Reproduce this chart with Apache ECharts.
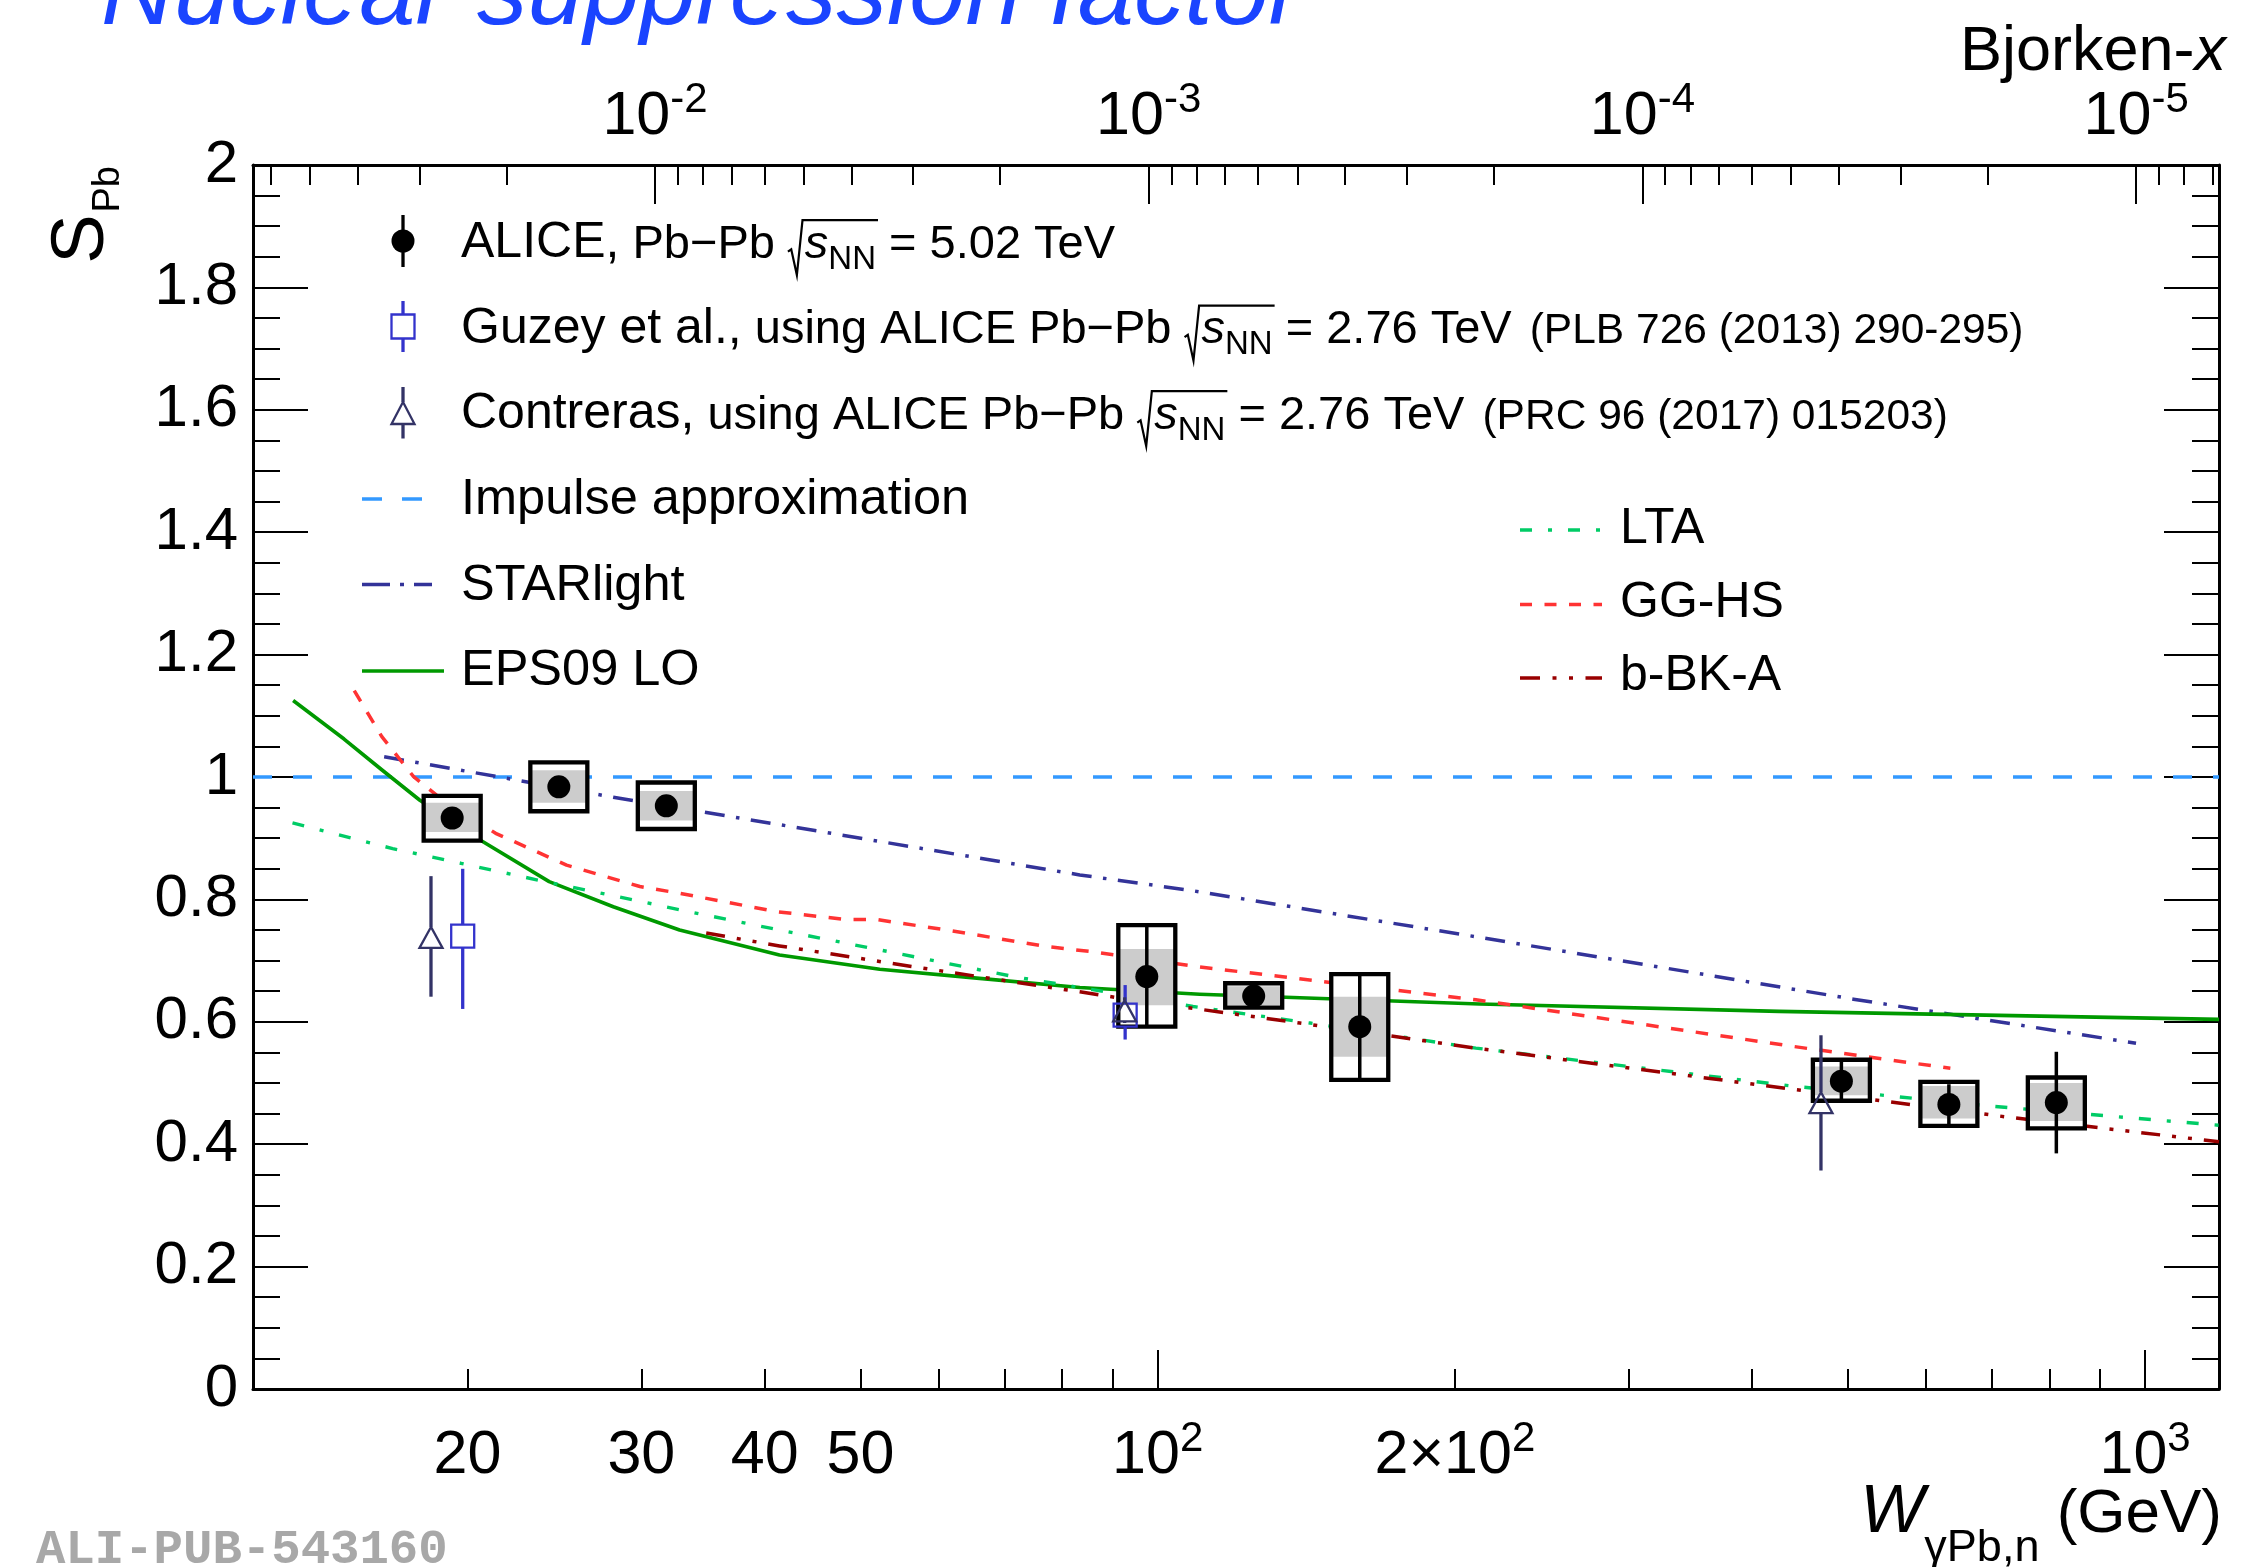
<!DOCTYPE html>
<html><head><meta charset="utf-8">
<script src="https://cdn.jsdelivr.net/npm/echarts@6/dist/echarts.min.js"></script>
<style>html,body{margin:0;padding:0;background:#fff}#c{width:2265px;height:1567px}</style>
</head><body><div id="c"></div>
<script>
// ---------------- data ----------------
// ALICE Pb-Pb 5.02 TeV
const aliceW      = [19.3, 24.75, 31.8, 97.5, 125.1, 160.2, 492.5, 632.8, 813];
const aliceS      = [0.933, 0.984, 0.953, 0.674, 0.642, 0.592, 0.503, 0.465, 0.468];
const aliceStat   = [0.010, 0.010, 0.010, 0.083, 0.012, 0.086, 0.034, 0.033, 0.083];
const aliceSystLo = [0.896, 0.944, 0.915, 0.592, 0.623, 0.505, 0.471, 0.430, 0.426];
const aliceSystHi = [0.969, 1.024, 0.991, 0.758, 0.663, 0.678, 0.538, 0.502, 0.509];
const aliceCorrLo = [0.910, 0.958, 0.929, 0.627, 0.627, 0.543, 0.480, 0.442, 0.438];
const aliceCorrHi = [0.958, 1.011, 0.977, 0.719, 0.658, 0.641, 0.527, 0.495, 0.500];
// Guzey et al.
const guzeyW  = [19.78, 92.7];
const guzeyS  = [0.740, 0.611];
const guzeyLo = [0.621, 0.571];
const guzeyHi = [0.850, 0.660];
// Contreras
const contW  = [18.37, 92.6, 469.6];
const contS  = [0.737, 0.617, 0.467];
const contLo = [0.641, 0.598, 0.357];
const contHi = [0.838, 0.640, 0.578];
// Models
const impulseW = [12.13, 1188];
const impulseS = [1.0, 1.0];
const starW = [16.47, 22.26, 28.1, 41.45, 83.4, 107.7, 210, 506.5, 979];
const starS = [1.033, 0.996, 0.967, 0.922, 0.840, 0.815, 0.739, 0.637, 0.565];
const epsW = [13.32, 15.0, 16.4, 17.9, 20.6, 24.2, 28.1, 32.8, 41.4, 52.3, 66.0, 83.4, 110.3, 211.8, 426, 1188];
const epsS = [1.125, 1.062, 1.011, 0.962, 0.897, 0.829, 0.788, 0.750, 0.709, 0.686, 0.671, 0.656, 0.645, 0.629, 0.617, 0.604];
const ltaW = [13.3, 16.8, 19.7, 23.5, 29.5, 32.8, 41.4, 54.4, 71.4, 90.1, 108.6, 142.6, 210, 439, 700, 1188];
const ltaS = [0.925, 0.883, 0.859, 0.832, 0.799, 0.783, 0.750, 0.712, 0.674, 0.647, 0.625, 0.598, 0.557, 0.495, 0.462, 0.431];
const gghsW = [15.36, 16.38, 17.64, 18.69, 21.36, 25.2, 29.9, 32.8, 41.1, 48.4, 52.0, 61.1, 77.2, 85.3, 108.6, 210, 439, 635];
const gghsS = [1.141, 1.066, 1.0005, 0.968, 0.908, 0.856, 0.821, 0.810, 0.780, 0.767, 0.767, 0.750, 0.723, 0.715, 0.691, 0.636, 0.560, 0.524];
const bbkW = [34.9, 41.4, 56.6, 77.2, 83.4, 102.8, 108.6, 139.3, 210, 439, 720, 1188];
const bbkS = [0.745, 0.724, 0.690, 0.657, 0.649, 0.626, 0.622, 0.598, 0.557, 0.490, 0.445, 0.404];

// ---------------- axes / ticks ----------------
const W_MIN = 12.13, W_MAX = 1188, MJPSI = 3.097;
const X_LEFT = Math.pow(MJPSI / W_MIN, 2), X_RIGHT = Math.pow(MJPSI / W_MAX, 2);
const wLabelValues = [20, 30, 40, 50, 100, 200, 1000];
const wMajorTicks = [100, 1000];
const wMinorTicks = [20, 30, 40, 50, 60, 70, 80, 90, 200, 300, 400, 500, 600, 700, 800, 900];
const bjLabelValues = [1e-2, 1e-3, 1e-4, 1e-5];
const bjMinorTicks = [];
for (let e = -6; e <= -2; e++) for (let k = 2; k <= 9; k++) {
  const v = k * Math.pow(10, e);
  if (v >= X_RIGHT && v <= X_LEFT) bjMinorTicks.push(v);
}

const FF = '"Liberation Sans", Arial, Helvetica, sans-serif';
const tickRich = {
  n: { fontSize: 61, lineHeight: 68.5, fontFamily: FF, color: '#000', verticalAlign: 'bottom' },
  p: { fontSize: 42, lineHeight: 42, fontFamily: FF, color: '#000', verticalAlign: 'top' }
};
function fmtW(v) {
  v = Math.round(v);
  if (v >= 100) {
    const e = Math.round(Math.log10(v));
    const m = Math.round(v / Math.pow(10, e));
    return (m === 1 ? '{n|10}' : '{n|' + m + '×10}') + '{p|' + e + '}';
  }
  return '{n|' + v + '}';
}
function fmtX(v) {
  const e = Math.round(Math.log10(v));
  return '{n|10}{p|' + e + '}';
}
const black = { color: '#000', width: 3 };
const tickStyle = { color: '#000', width: 2 };

// ---------------- text helpers (legend, titles) ----------------
const mctx = document.createElement('canvas').getContext('2d');
function tw(t, size, it) { mctx.font = (it ? 'italic ' : '') + size + 'px "Liberation Sans"'; return mctx.measureText(t).width; }
function segWidth(segs) {
  let w = 0;
  for (const s of segs) w += (s.gap || 0) + (s.rad ? s.size * 0.36 : tw(s.t, s.size, s.it));
  return w;
}
function lineEls(x0, base, segs, color) {
  const els = []; let x = x0;
  for (let i = 0; i < segs.length; i++) {
    const s = segs[i]; x += s.gap || 0;
    if (s.rad) {
      const f = s.size;
      const cover = segWidth(segs.slice(i + 1, i + 1 + s.rad));
      const top = base - 0.87 * f;
      const xe = x + 0.36 * f + cover + 2;
      els.push({ type: 'polyline', silent: true,
        shape: { points: [[x, base - 0.2 * f], [x + 0.07 * f, base - 0.25 * f], [x + 0.19 * f, base + 0.3 * f], [x + 0.31 * f, top], [xe, top]] },
        style: { stroke: color, lineWidth: 2.2, fill: null } });
      x += 0.36 * f; continue;
    }
    const yb = base + (s.dy || 0);
    els.push({ type: 'text', silent: true, x: x, y: yb - 0.35 * s.size,
      style: { text: s.t, fontSize: s.size, fontFamily: FF, fontStyle: s.it ? 'italic' : 'normal',
               fill: color, align: 'left', verticalAlign: 'middle' } });
    x += tw(s.t, s.size, s.it);
  }
  return els;
}

const LX = 461;          // legend text start
const MX = 403;          // legend marker x
const graphics = [];
// hand-written annotation (clipped at the top of the page)
graphics.push({ type: 'text', silent: true, x: 101, y: -4,
  style: { text: 'Nuclear suppression factor', fontSize: 101, fontFamily: FF, fontStyle: 'italic',
           fill: '#1a44ff', align: 'left', verticalAlign: 'middle' } });
// ALICE row
graphics.push(...lineEls(LX, 261, [
  { t: 'ALICE,', size: 50 }, { t: ' Pb−Pb ', size: 47 }, { rad: 2, size: 47 },
  { t: 's', size: 47, it: true }, { t: 'NN', size: 33, dy: 10 }, { t: ' = 5.02 TeV', size: 47 }], '#000'));
graphics.push({ type: 'line', silent: true, shape: { x1: MX, y1: 215, x2: MX, y2: 267 }, style: { stroke: '#000', lineWidth: 3.3 } });
graphics.push({ type: 'circle', silent: true, shape: { cx: MX, cy: 241, r: 11.5 }, style: { fill: '#000' } });
// Guzey row
graphics.push(...lineEls(LX, 346.5, [
  { t: 'Guzey et al.,', size: 50 }, { t: ' using ALICE Pb−Pb ', size: 47 }, { rad: 2, size: 47 },
  { t: 's', size: 47, it: true }, { t: 'NN', size: 33, dy: 10 }, { t: ' = 2.76 TeV', size: 47 },
  { t: '(PLB 726 (2013) 290-295)', size: 42.5, gap: 18 }], '#000'));
graphics.push({ type: 'line', silent: true, shape: { x1: MX, y1: 301, x2: MX, y2: 314.5 }, style: { stroke: '#3333cc', lineWidth: 3.3 } });
graphics.push({ type: 'line', silent: true, shape: { x1: MX, y1: 338.5, x2: MX, y2: 352 }, style: { stroke: '#3333cc', lineWidth: 3.3 } });
graphics.push({ type: 'rect', silent: true, shape: { x: MX - 11.5, y: 314.5, width: 23, height: 24 }, style: { fill: 'none', stroke: '#3333cc', lineWidth: 2.3 } });
// Contreras row
graphics.push(...lineEls(LX, 432, [
  { t: 'Contreras,', size: 50 }, { t: ' using ALICE Pb−Pb ', size: 47 }, { rad: 2, size: 47 },
  { t: 's', size: 47, it: true }, { t: 'NN', size: 33, dy: 10 }, { t: ' = 2.76 TeV', size: 47 },
  { t: '(PRC 96 (2017) 015203)', size: 42.5, gap: 18 }], '#000'));
graphics.push({ type: 'line', silent: true, shape: { x1: MX, y1: 387, x2: MX, y2: 402 }, style: { stroke: '#333366', lineWidth: 3.3 } });
graphics.push({ type: 'line', silent: true, shape: { x1: MX, y1: 424, x2: MX, y2: 438.5 }, style: { stroke: '#333366', lineWidth: 3.3 } });
graphics.push({ type: 'polygon', silent: true, shape: { points: [[MX, 402], [MX - 11.5, 424], [MX + 11.5, 424]] }, style: { fill: 'none', stroke: '#333366', lineWidth: 2.3 } });
// line-legend rows
function legLine(x1, x2, y, color, dash, w) {
  return { type: 'line', silent: true, shape: { x1, y1: y, x2, y2: y }, style: { stroke: color, lineWidth: w || 3.5, lineDash: dash } };
}
graphics.push(legLine(362, 424, 499, '#3399ff', [20, 20]));
graphics.push(...lineEls(LX, 518, [{ t: 'Impulse approximation', size: 50.5 }], '#000'));
graphics.push(legLine(362, 432, 584.5, '#333399', [28, 10, 4, 10]));
graphics.push(...lineEls(LX, 603.5, [{ t: 'STARlight', size: 50.5 }], '#000'));
graphics.push(legLine(362, 444, 671, '#009900', null));
graphics.push(...lineEls(LX, 689, [{ t: 'EPS09 LO', size: 50.5 }], '#000'));
// right legend
graphics.push(legLine(1520, 1602, 530, '#00cc66', [12, 16, 4, 16]));
graphics.push(...lineEls(1620, 547, [{ t: 'LTA', size: 50 }], '#000'));
graphics.push(legLine(1520, 1602, 604.5, '#ff3333', [12, 12.5]));
graphics.push(...lineEls(1620, 621, [{ t: 'GG-HS', size: 50 }], '#000'));
graphics.push(legLine(1520, 1602, 678, '#990000', [20, 12.5, 4, 12.5, 4, 12.5]));
graphics.push(...lineEls(1620, 694, [{ t: 'b-BK-A', size: 50 }], '#000'));
// Bjorken-x title (top right)
const bjSegs = [{ t: 'Bjorken-', size: 63 }, { t: 'x', size: 63, it: true }];
graphics.push(...lineEls(2226 - segWidth(bjSegs), 75, bjSegs, '#000'));
// W title (bottom right)
const wSegs = [{ t: 'W', size: 68, it: true }, { t: 'γPb,n', size: 45, dy: 27 }, { t: ' (GeV)', size: 62 }];
graphics.push(...lineEls(2222 - segWidth(wSegs), 1537, wSegs, '#000'));
// S_Pb title (rotated)
const pbW = tw('Pb', 38, false);
graphics.push({ type: 'group', x: 108, y: 166, rotation: Math.PI / 2, silent: true, children: [
  { type: 'text', x: -pbW - 2, y: -0.35 * 74, style: { text: 'S', fontSize: 74, fontFamily: FF, fill: '#000', align: 'right', verticalAlign: 'middle' } },
  { type: 'text', x: 0, y: 14 - 0.35 * 38, style: { text: 'Pb', fontSize: 38, fontFamily: FF, fill: '#000', align: 'right', verticalAlign: 'middle' } }
] });
// publication tag
graphics.push({ type: 'text', silent: true, x: 36, y: 1551,
  style: { text: 'ALI-PUB-543160', fontSize: 49, fontFamily: '"Liberation Mono", "DejaVu Sans Mono", monospace', fontWeight: 'bold',
           fill: '#a8a8a8', align: 'left', verticalAlign: 'middle' } });

// ---------------- custom renderers ----------------
function renderAlice(params, api) {
  const w = api.value(0), s = api.value(1), st = api.value(2);
  const c = api.coord([w, s]);
  const pHi = api.coord([w, s + st])[1], pLo = api.coord([w, s - st])[1];
  const bHi = api.coord([w, api.value(4)])[1], bLo = api.coord([w, api.value(3)])[1];
  const gHi = api.coord([w, api.value(6)])[1], gLo = api.coord([w, api.value(5)])[1];
  const hw = 28.5;
  return { type: 'group', children: [
    { type: 'rect', shape: { x: c[0] - hw, y: bHi, width: 2 * hw, height: bLo - bHi }, style: { fill: '#ffffff' } },
    { type: 'rect', shape: { x: c[0] - hw, y: gHi, width: 2 * hw, height: gLo - gHi }, style: { fill: '#cccccc' } },
    { type: 'rect', shape: { x: c[0] - hw, y: bHi, width: 2 * hw, height: bLo - bHi }, style: { fill: 'none', stroke: '#000', lineWidth: 4.3 } },
    { type: 'line', shape: { x1: c[0], y1: pHi, x2: c[0], y2: pLo }, style: { stroke: '#000', lineWidth: 3.5 } },
    { type: 'circle', shape: { cx: c[0], cy: c[1], r: 11.5 }, style: { fill: '#000' } }
  ] };
}
function renderGuzey(params, api) {
  const w = api.value(0);
  const c = api.coord([w, api.value(1)]);
  const lo = api.coord([w, api.value(2)])[1], hi = api.coord([w, api.value(3)])[1];
  const h = 11.5, col = '#3333cc';
  return { type: 'group', children: [
    { type: 'line', shape: { x1: c[0], y1: hi, x2: c[0], y2: c[1] - h }, style: { stroke: col, lineWidth: 3.3 } },
    { type: 'line', shape: { x1: c[0], y1: c[1] + h, x2: c[0], y2: lo }, style: { stroke: col, lineWidth: 3.3 } },
    { type: 'rect', shape: { x: c[0] - h, y: c[1] - h, width: 2 * h, height: 2 * h }, style: { fill: 'none', stroke: col, lineWidth: 2.3 } }
  ] };
}
function renderCont(params, api) {
  const w = api.value(0);
  const c = api.coord([w, api.value(1)]);
  const lo = api.coord([w, api.value(2)])[1], hi = api.coord([w, api.value(3)])[1];
  const col = '#333366';
  return { type: 'group', children: [
    { type: 'line', shape: { x1: c[0], y1: hi, x2: c[0], y2: c[1] - 11 }, style: { stroke: col, lineWidth: 3.3 } },
    { type: 'line', shape: { x1: c[0], y1: c[1] + 10, x2: c[0], y2: lo }, style: { stroke: col, lineWidth: 3.3 } },
    { type: 'polygon', shape: { points: [[c[0], c[1] - 11], [c[0] - 11.5, c[1] + 10], [c[0] + 11.5, c[1] + 10]] }, style: { fill: 'none', stroke: col, lineWidth: 2.3 } }
  ] };
}
function pairs(xs, ys) { return xs.map((x, i) => [x, ys[i]]); }
function curve(name, xs, ys, color, dash, width) {
  return { name, type: 'line', xAxisIndex: 0, yAxisIndex: 0, data: pairs(xs, ys), showSymbol: false, symbol: 'none',
    smooth: false, clip: true, z: 2, silent: true,
    lineStyle: { color, width: width || 3.5, type: dash || 'solid', join: 'round' } };
}

// ---------------- chart ----------------
const chart = echarts.init(document.getElementById('c'), null, { renderer: 'canvas' });
const xBase = { type: 'log', logBase: 10, splitLine: { show: false }, minorTick: { show: false }, minorSplitLine: { show: false } };
const gridRect = { left: 253, right: 46, top: 165, bottom: 178, containLabel: false, outerBoundsMode: 'none' };
chart.setOption({
  animation: false,
  backgroundColor: '#ffffff',
  grid: [Object.assign({}, gridRect), Object.assign({}, gridRect)],
  xAxis: [
    // grid 0 : W axis (bottom) with long ticks and labels
    Object.assign({}, xBase, { gridIndex: 0, min: W_MIN, max: W_MAX, position: 'bottom',
      axisLine: { show: true, onZero: false, lineStyle: black },
      axisTick: { show: true, inside: true, length: 39, customValues: wMajorTicks, lineStyle: tickStyle },
      axisLabel: { show: true, customValues: wLabelValues, margin: 29, formatter: fmtW, rich: tickRich } }),
    // grid 1 : W axis short ticks
    Object.assign({}, xBase, { gridIndex: 1, min: W_MIN, max: W_MAX, position: 'bottom',
      axisLine: { show: false },
      axisTick: { show: true, inside: true, length: 20, customValues: wMinorTicks, lineStyle: tickStyle },
      axisLabel: { show: false } }),
    // grid 0 : Bjorken-x axis (top) with long ticks and labels
    Object.assign({}, xBase, { gridIndex: 0, min: X_RIGHT, max: X_LEFT, inverse: true, position: 'top',
      axisLine: { show: true, onZero: false, lineStyle: black },
      axisTick: { show: true, inside: true, length: 39, customValues: bjLabelValues, lineStyle: tickStyle },
      axisLabel: { show: true, customValues: bjLabelValues, margin: 17.5, formatter: fmtX, rich: tickRich } }),
    // grid 1 : Bjorken-x short ticks
    Object.assign({}, xBase, { gridIndex: 1, min: X_RIGHT, max: X_LEFT, inverse: true, position: 'top',
      axisLine: { show: false },
      axisTick: { show: true, inside: true, length: 20, customValues: bjMinorTicks, lineStyle: tickStyle },
      axisLabel: { show: false } })
  ],
  yAxis: [
    { type: 'value', gridIndex: 0, min: 0, max: 2, interval: 0.2, position: 'left',
      axisLine: { show: true, onZero: false, lineStyle: black },
      axisTick: { show: true, inside: true, length: 55, lineStyle: tickStyle },
      minorTick: { show: true, splitNumber: 4, length: 27, lineStyle: tickStyle },
      splitLine: { show: false },
      axisLabel: { show: true, margin: 15, fontSize: 60, fontFamily: FF, color: '#000',
        formatter: v => String(+v.toFixed(1)) } },
    { type: 'value', gridIndex: 0, min: 0, max: 2, interval: 0.2, position: 'right',
      axisLine: { show: true, onZero: false, lineStyle: black },
      axisTick: { show: true, inside: true, length: 55, lineStyle: tickStyle },
      minorTick: { show: true, splitNumber: 4, length: 27, lineStyle: tickStyle },
      splitLine: { show: false }, axisLabel: { show: false } },
    { type: 'value', gridIndex: 1, min: 0, max: 2, show: false, splitLine: { show: false } }
  ],
  graphic: { elements: graphics },
  series: [
    curve('Impulse approximation', impulseW, impulseS, '#3399ff', [19, 21], 3.5),
    curve('STARlight', starW, starS, '#333399', [20, 11.5, 3.5, 11.5], 3.5),
    curve('EPS09 LO', epsW, epsS, '#009900', 'solid', 3.6),
    curve('LTA', ltaW, ltaS, '#00cc66', [12, 16, 4, 16], 3.4),
    curve('GG-HS', gghsW, gghsS, '#ff3333', [12.5, 12.5], 3.5),
    curve('b-BK-A', bbkW, bbkS, '#990000', [19, 12, 4, 12, 4, 12], 3.5),
    { name: 'ALICE', type: 'custom', xAxisIndex: 0, yAxisIndex: 0, z: 5, silent: true,
      renderItem: renderAlice,
      data: aliceW.map((w, i) => [w, aliceS[i], aliceStat[i], aliceSystLo[i], aliceSystHi[i], aliceCorrLo[i], aliceCorrHi[i]]) },
    { name: 'Guzey et al.', type: 'custom', xAxisIndex: 0, yAxisIndex: 0, z: 6, silent: true,
      renderItem: renderGuzey,
      data: guzeyW.map((w, i) => [w, guzeyS[i], guzeyLo[i], guzeyHi[i]]) },
    { name: 'Contreras', type: 'custom', xAxisIndex: 0, yAxisIndex: 0, z: 6, silent: true,
      renderItem: renderCont,
      data: contW.map((w, i) => [w, contS[i], contLo[i], contHi[i]]) }
  ]
});
</script>
</body></html>
